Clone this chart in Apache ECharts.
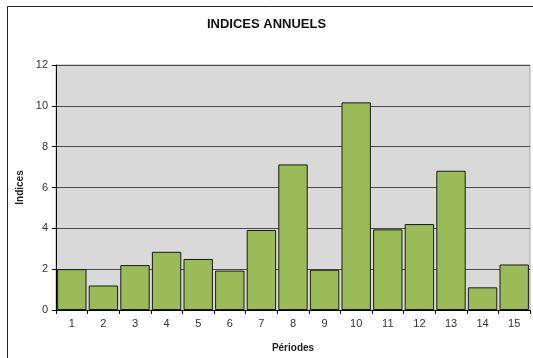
<!DOCTYPE html>
<html><head><meta charset="utf-8">
<script src="https://cdn.jsdelivr.net/npm/echarts@6/dist/echarts.min.js"></script>
<style>html,body{margin:0;padding:0;background:#fff}#c{width:533px;height:358px}</style>
</head><body><div id="c"></div>
<script>
const categories = ['1','2','3','4','5','6','7','8','9','10','11','12','13','14','15'];
const indices = [2.0, 1.2, 2.2, 2.85, 2.5, 1.93, 3.92, 7.13, 1.97, 10.17, 3.95, 4.21, 6.82, 1.11, 2.23];
const yTicks = { min: 0, max: 12, interval: 2 };
const title = 'INDICES ANNUELS';
const xName = 'Périodes';
const yName = 'Indices';

const chart = echarts.init(document.getElementById('c'), null, { renderer: 'canvas' });
chart.setOption({
  animation: false,
  backgroundColor: '#fff',
  textStyle: { fontFamily: 'Liberation Sans, Arial, sans-serif' },
  title: {
    text: title, left: 'center', top: 13,
    textStyle: { fontSize: 13, fontWeight: 'bold', color: '#111', fontFamily: 'Liberation Sans' }
  },
  graphic: [{
    type: 'rect', shape: { x: 7.5, y: 6.5, width: 560, height: 400 },
    style: { fill: null, stroke: '#222', lineWidth: 1 }, silent: true, z: 100
  }],
  grid: {
    left: 56, right: 3, top: 65, bottom: 45, show: true,
    backgroundColor: '#D9D9D9', borderColor: '#aaa', borderWidth: 1
  },
  xAxis: {
    type: 'category', data: categories,
    name: xName, nameLocation: 'middle', nameGap: 33,
    nameTextStyle: { fontSize: 10, fontWeight: 'bold', color: '#222' },
    axisLine: { lineStyle: { color: '#000', width: 1 } },
    axisTick: { show: true, alignWithLabel: false, length: 4, lineStyle: { color: '#000' } },
    axisLabel: { fontSize: 11, color: '#333', margin: 8 }
  },
  yAxis: {
    type: 'value', min: yTicks.min, max: yTicks.max, interval: yTicks.interval,
    name: yName, nameLocation: 'middle', nameGap: 27, nameRotate: 90,
    nameTextStyle: { fontSize: 10, fontWeight: 'bold', color: '#222' },
    axisLine: { show: true, lineStyle: { color: '#000', width: 1 } },
    axisTick: { show: true, length: 4, lineStyle: { color: '#000' } },
    axisLabel: { fontSize: 11, color: '#333', margin: 8 },
    splitLine: { show: true, lineStyle: { color: '#4a4a4a', width: 1 } }
  },
  series: [{
    type: 'bar', data: indices, barCategoryGap: '7%',
    itemStyle: { color: '#9BBB59', borderColor: '#1a1a1a', borderWidth: 1 }
  }]
});
</script></body></html>
